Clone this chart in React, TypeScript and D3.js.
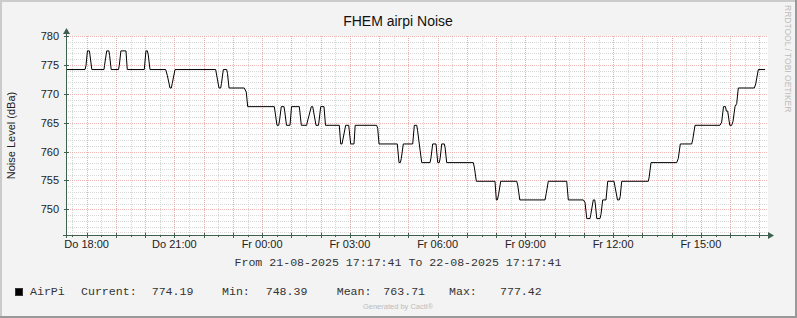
import React from "react";
import * as d3 from "d3";

// ---- data ----
const startTime = new Date(2025, 7, 21, 17, 17, 41);
const endTime = new Date(2025, 7, 22, 17, 17, 41);

// minutes after start, and noise level (dBa)
const offsetsMin = [
  2, 39, 41, 44, 48, 49, 53, 78, 79, 83.5, 88, 89.5, 92.7, 107.7, 109.3, 112.6, 123, 125.7,
  160.6, 164, 167, 168.8, 172.3, 204.5, 207.8, 213.3, 216, 218, 223.6, 307, 313.8, 317.3, 319,
  322.7, 329.6, 331.3, 334.4, 365.7, 369.8, 372.7, 427.3, 432.8, 436.3, 437.9, 441.6, 447.2,
  448.6, 452.3, 459.5, 462.6, 478.6, 482.7, 493.7, 495, 503.2, 506.1, 507.7, 512.8, 518, 522.5,
  529.2, 532.3, 560.6, 563.5, 566.2, 567.8, 573.7, 579.9, 581.1, 584, 590.8, 593.2, 637.3,
  639.4, 642.1, 679.6, 683.1, 685.8, 687.8, 691.9, 711.2, 714.5, 719.4, 721.1, 724.7, 729.7,
  746.7, 748.7, 752.2, 759, 762.5, 765.7, 767.6, 770.7, 776, 777.8, 780.9, 835.5, 837.6, 841.7,
  880, 882.7, 884.8, 887.2, 891.7, 924.5, 926.6, 930.9, 982.6, 985, 989.3, 1027.1, 1030.4,
  1061.1, 1064.6, 1068.3, 1074.9, 1076.5, 1081.6, 1084.5, 1085.8, 1088.8, 1095.4, 1097.4,
  1100.9, 1107.7, 1111.2, 1124.1, 1126.2, 1131.3, 1135, 1136.8, 1139.9, 1194.5, 1196.3, 1200,
  1252.7, 1256, 1260.1, 1283.5, 1285.5, 1290.3, 1341.5, 1345, 1348.7, 1352.8, 1354.5, 1357.3,
  1361.6, 1365.5, 1368.2, 1372.3, 1375.8, 1379.1, 1411.9, 1414.8, 1420.1, 1434,
];
const noise = [
  774.19, 774.19, 774.9, 777.42, 777.42, 776.8, 774.19, 774.19, 774.9, 777.42, 777.42, 776.6,
  774.19, 774.19, 774.9, 777.42, 777.42, 774.19, 774.19, 777.42, 777.42, 776.7, 774.19, 774.19,
  773.2, 771.0, 771.0, 771.8, 774.19, 774.19, 771.0, 771.0, 771.8, 774.19, 774.19, 773.5, 771.0,
  771.0, 770.3, 767.77, 767.77, 764.54, 764.54, 765.3, 767.77, 767.77, 767.0, 764.54, 764.54,
  767.77, 767.77, 764.54, 764.54, 765.1, 767.77, 767.77, 767.0, 764.54, 764.54, 767.77, 767.77,
  764.54, 764.54, 761.31, 761.31, 762.0, 764.54, 764.54, 763.6, 761.31, 761.31, 764.54, 764.54,
  764.0, 761.31, 761.31, 758.08, 758.08, 758.8, 761.31, 761.31, 764.54, 764.54, 763.7, 761.31,
  758.08, 758.08, 758.9, 761.31, 761.31, 758.08, 758.08, 758.9, 761.31, 761.31, 760.6, 758.08,
  758.08, 757.3, 754.85, 754.85, 751.62, 751.62, 752.5, 754.85, 754.85, 754.2, 751.62, 751.62,
  752.7, 754.85, 754.85, 751.62, 751.62, 751.2, 748.39, 748.39, 749.1, 751.62, 751.62, 750.9,
  748.39, 748.39, 749.1, 751.62, 751.62, 754.85, 754.85, 753.9, 751.62, 751.62, 752.2, 754.85,
  754.85, 755.6, 758.08, 758.08, 758.8, 761.31, 761.31, 762.0, 764.54, 764.54, 765.1, 767.77,
  767.77, 767.0, 767.0, 764.54, 764.54, 765.2, 767.77, 768.3, 771.0, 771.0, 771.7, 774.19,
  774.19,
];

const yTicks = [750, 755, 760, 765, 770, 775, 780];
const xTickLabels = ["Do 18:00", "Do 21:00", "Fr 00:00", "Fr 03:00", "Fr 06:00", "Fr 09:00", "Fr 12:00", "Fr 15:00"];

const title = "FHEM airpi Noise";
const yLabel = "Noise Level (dBa)";
const rangeText = "From 21-08-2025 17:17:41 To 22-08-2025 17:17:41";
const seriesName = "AirPi";
const statLabels = ["Current:", "Min:", "Mean:", "Max:"];
const statValues = ["774.19", "748.39", "763.71", "777.42"];

// ---- layout ----
const W = 797;
const H = 318;
const left = 66;
const right = 768;
const top = 36;
const bottom = 235;

export default function App() {
  const x = d3.scaleTime().domain([startTime, endTime]).range([left, right]);
  const y = d3.scaleLinear().domain([745.55, 780]).range([bottom, top]);

  const pts = offsetsMin.map((m, i) => [new Date(startTime.getTime() + m * 60000), noise[i]] as [Date, number]);
  const line = d3
    .line<[Date, number]>()
    .x((d) => x(d[0]))
    .y((d) => y(d[1]));

  const minorX = d3.timeMinute.every(30)!.range(startTime, endTime);
  const majorX = d3.timeHour.every(1)!.range(startTime, endTime);
  const labelX = d3.timeHour.every(3)!.range(startTime, endTime);
  const minorY = d3.range(746, 781, 1).filter((v) => v % 5 !== 0);

  const axisColor = "#3f5f4f";
  const sans = "'Liberation Sans', Arial, sans-serif";
  const mono = "'Liberation Mono', 'Courier New', monospace";

  const statX = [81, 222, 336.7, 449];
  const valX = [151.7, 265.7, 383.3, 500];

  return (
    <div style={{ position: "absolute", left: 0, top: 0 }}>
      <svg width={W} height={H} style={{ display: "block" }}>
        <rect x={0} y={0} width={W} height={H} fill="#f3f3f3" />
        <line x1={0} y1={1} x2={W} y2={1} stroke="#cbcbcb" strokeWidth={2} />
        <line x1={1} y1={0} x2={1} y2={H} stroke="#cbcbcb" strokeWidth={2} />
        <line x1={0} y1={H - 1} x2={W} y2={H - 1} stroke="#999" strokeWidth={2} />
        <line x1={W - 1} y1={0} x2={W - 1} y2={H} stroke="#999" strokeWidth={2} />

        <rect x={left} y={top} width={right - left} height={bottom - top} fill="#ffffff" />

        {/* minor grid */}
        <g stroke="#bdbdbd" strokeWidth={1} strokeDasharray="1,1" opacity={0.6} shapeRendering="crispEdges">
          {minorX.map((t, i) => (
            <line key={"mx" + i} x1={Math.round(x(t)) + 0.5} x2={Math.round(x(t)) + 0.5} y1={top} y2={bottom} />
          ))}
          {minorY.map((v, i) => (
            <line key={"my" + i} x1={left} x2={right} y1={Math.round(y(v)) + 0.5} y2={Math.round(y(v)) + 0.5} />
          ))}
        </g>
        {/* major grid */}
        <g stroke="#eb9a9a" strokeWidth={1} strokeDasharray="1,1" opacity={0.7} shapeRendering="crispEdges">
          {majorX.map((t, i) => (
            <line key={"Mx" + i} x1={Math.round(x(t)) + 0.5} x2={Math.round(x(t)) + 0.5} y1={top} y2={bottom} />
          ))}
          {yTicks.map((v, i) => (
            <line key={"My" + i} x1={left} x2={right} y1={Math.round(y(v)) + 0.5} y2={Math.round(y(v)) + 0.5} />
          ))}
        </g>

        {/* data line */}
        <path d={line(pts) || ""} fill="none" stroke="#000" strokeWidth={1} />

        {/* axes */}
        <g stroke={axisColor} strokeWidth={1} shapeRendering="crispEdges">
          <line x1={left + 0.5} x2={left + 0.5} y1={bottom + 3} y2={top - 4} />
          <line x1={left - 3} x2={right + 2} y1={bottom + 0.5} y2={bottom + 0.5} />
          {minorX.map((t, i) => (
            <line key={"tx" + i} x1={Math.round(x(t)) + 0.5} x2={Math.round(x(t)) + 0.5} y1={bottom} y2={bottom + 2} />
          ))}
          {majorX.map((t, i) => (
            <line key={"tX" + i} x1={Math.round(x(t)) + 0.5} x2={Math.round(x(t)) + 0.5} y1={bottom - 2} y2={bottom + 3} />
          ))}
          {yTicks.map((v, i) => (
            <line key={"ty" + i} x1={left - 2} x2={left + 3} y1={Math.round(y(v)) + 0.5} y2={Math.round(y(v)) + 0.5} />
          ))}
        </g>
        <path d={`M${left + 0.5},${top - 8} L${left - 3},${top - 2} L${left + 4},${top - 2} Z`} fill={axisColor} />
        <path d={`M${right + 6},${bottom + 0.5} L${right},${bottom - 3} L${right},${bottom + 4} Z`} fill={axisColor} />

        {/* y tick labels */}
        <g fontFamily={sans} fontSize={11} fill="#222" textAnchor="end">
          {yTicks.map((v) => (
            <text key={v} x={59} y={y(v) + 4}>
              {v}
            </text>
          ))}
        </g>
        {/* x tick labels */}
        <g fontFamily={sans} fontSize={11} fill="#222" textAnchor="middle">
          {labelX.map((t, i) => (
            <text key={i} x={x(t)} y={248}>
              {xTickLabels[i]}
            </text>
          ))}
        </g>

        <text x={398} y={26} fontFamily={sans} fontSize={14} fill="#111" textAnchor="middle">
          {title}
        </text>
        <text
          transform={`translate(15,${(top + bottom) / 2}) rotate(-90)`}
          fontFamily={sans}
          fontSize={11}
          fill="#222"
          textAnchor="middle"
        >
          {yLabel}
        </text>
        <text transform="translate(785,5) rotate(90)" fontFamily={sans} fontSize={8.5} fill="#bdbdbd">
          RRDTOOL / TOBI OETIKER
        </text>

        <text x={398} y={266} fontFamily={mono} fontSize={11.6} fill="#333" textAnchor="middle" style={{ whiteSpace: "pre" }}>
          {rangeText}
        </text>

        <rect x={15.5} y={288.5} width={7} height={7} fill="#000" stroke="#333" />
        <g fontFamily={mono} fontSize={11.6} fill="#333">
          <text x={30} y={295}>
            {seriesName}
          </text>
          {statLabels.map((s, i) => (
            <text key={s} x={statX[i]} y={295}>
              {s}
            </text>
          ))}
          {statValues.map((s, i) => (
            <text key={s} x={valX[i]} y={295}>
              {s}
            </text>
          ))}
        </g>

        <text x={398} y={309} fontFamily={sans} fontSize={7.5} fill="#bbb" textAnchor="middle">
          Generated by Cacti®
        </text>
      </svg>
    </div>
  );
}
